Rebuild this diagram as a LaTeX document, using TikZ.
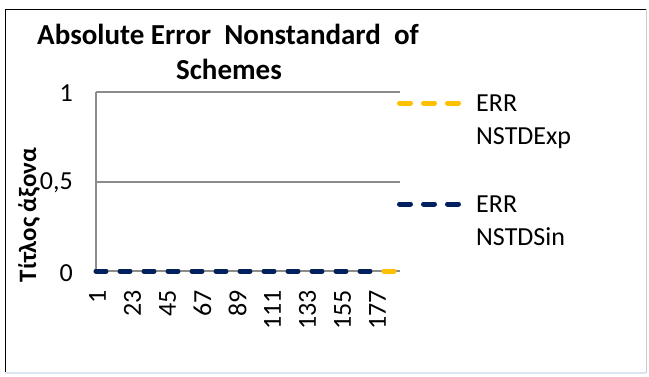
\documentclass[tikz,border=0pt]{standalone}
\usepackage{fontspec}
\setmainfont{Carlito}
\usepackage{xcolor}
\definecolor{EXPCOLOR}{HTML}{FFC000}
\definecolor{SINCOLOR}{HTML}{002060}
\definecolor{GRIDCOLOR}{HTML}{8C8C8C}
\definecolor{FRAMECOLOR}{HTML}{DCE6F0}
\usetikzlibrary{positioning}
\tikzset{
  title-style/.style = {
    font=\fontsize{29}{34}\selectfont\bfseries,
    inner sep=0pt
  },
  label-style/.style = {
    font=\fontsize{26}{30}\selectfont,
    inner sep=0pt
  },
  tick-style/.style = {
    label-style, rotate=90, anchor=east
  },
  ytitle-style/.style = {
    font=\fontsize{25}{30}\selectfont\bfseries,
    inner sep=0pt, rotate=90
  },
  grid-style/.style = {
    draw=GRIDCOLOR, line width=1.2pt
  },
  series-style/.style = {
    draw=#1, line width=5pt, line cap=round,
    dash pattern=on 10pt off 14pt
  },
  key-style/.style = {
    draw=#1, line width=5pt, line cap=round,
    dash pattern=on 11pt off 13pt
  }
}
\newcommand\legendEntry[4]{
  % key line, then the two text lines
  \coordinate (#1-a) at (399.5,#3);
  \coordinate (#1-b) at (461,#3);
  \draw[key-style=#2] (#1-a) -- (#1-b);
  \node[label-style, anchor=base west] (#1-err) at (476,#3+8) {ERR};
  \node[label-style, anchor=base west] (#1-name) at ([yshift=-33pt]#1-err.base west) {#4};
}

\begin{document}
\begin{tikzpicture}[x=1pt, y=-1pt]
  \useasboundingbox (0,0) rectangle (649,376);

  % frame
  \coordinate (fr-sw) at (5,373);
  \coordinate (fr-nw) at (5,9);
  \coordinate (fr-ne) at (646,9);
  \coordinate (fr-se) at (646,373);
  \draw[black, line width=1pt] (fr-sw) -- (fr-nw) -- (fr-ne);
  \draw[gray!40, line width=0.8pt] (fr-ne) -- (fr-se);
  \draw[FRAMECOLOR, line width=1.5pt] (fr-se) -- (fr-sw);

  % title
  \node[title-style, anchor=base] (title) at (228,44) {Absolute Error\ \ Nonstandard\ \ of};
  \node[title-style, anchor=base] (title2) at (229,79) {Schemes};

  % plot area
  \coordinate (origin) at (96,271);
  \coordinate (xend) at (400,271);
  \coordinate (ytop) at (96,92);
  \coordinate (ytop-r) at (400,92);
  \coordinate (ymid) at (96,182);
  \coordinate (ymid-r) at (400,182);
  \coordinate (sinend) at (377,271);

  \draw[grid-style] (ytop) -- (ytop-r);
  \draw[grid-style] (ymid) -- (ymid-r);
  \draw[grid-style] (ytop) -- (origin) -- (xend);

  % series
  \draw[series-style=EXPCOLOR] (origin) -- (xend);
  \draw[series-style=SINCOLOR] (origin) -- (sinend);

  % axis labels
  \node[label-style, anchor=east] (ylab-1) at (73,93) {1};
  \node[label-style, anchor=east] (ylab-05) at (73,183) {0,5};
  \node[label-style, anchor=east] (ylab-0) at (73,273) {0};
  \foreach \lab [count=\i from 0] in {1,23,45,67,89,111,133,155,177}
    \node[tick-style] (tick-\i) at (97.5+35*\i,290) {\lab};
  \node[ytitle-style] (ytitle) at (29,215) {Τίτλος άξονα};

  % legend
  \legendEntry{exp}{EXPCOLOR}{103}{NSTDExp}
  \legendEntry{sin}{SINCOLOR}{204}{NSTDSin}
\end{tikzpicture}
\end{document}
